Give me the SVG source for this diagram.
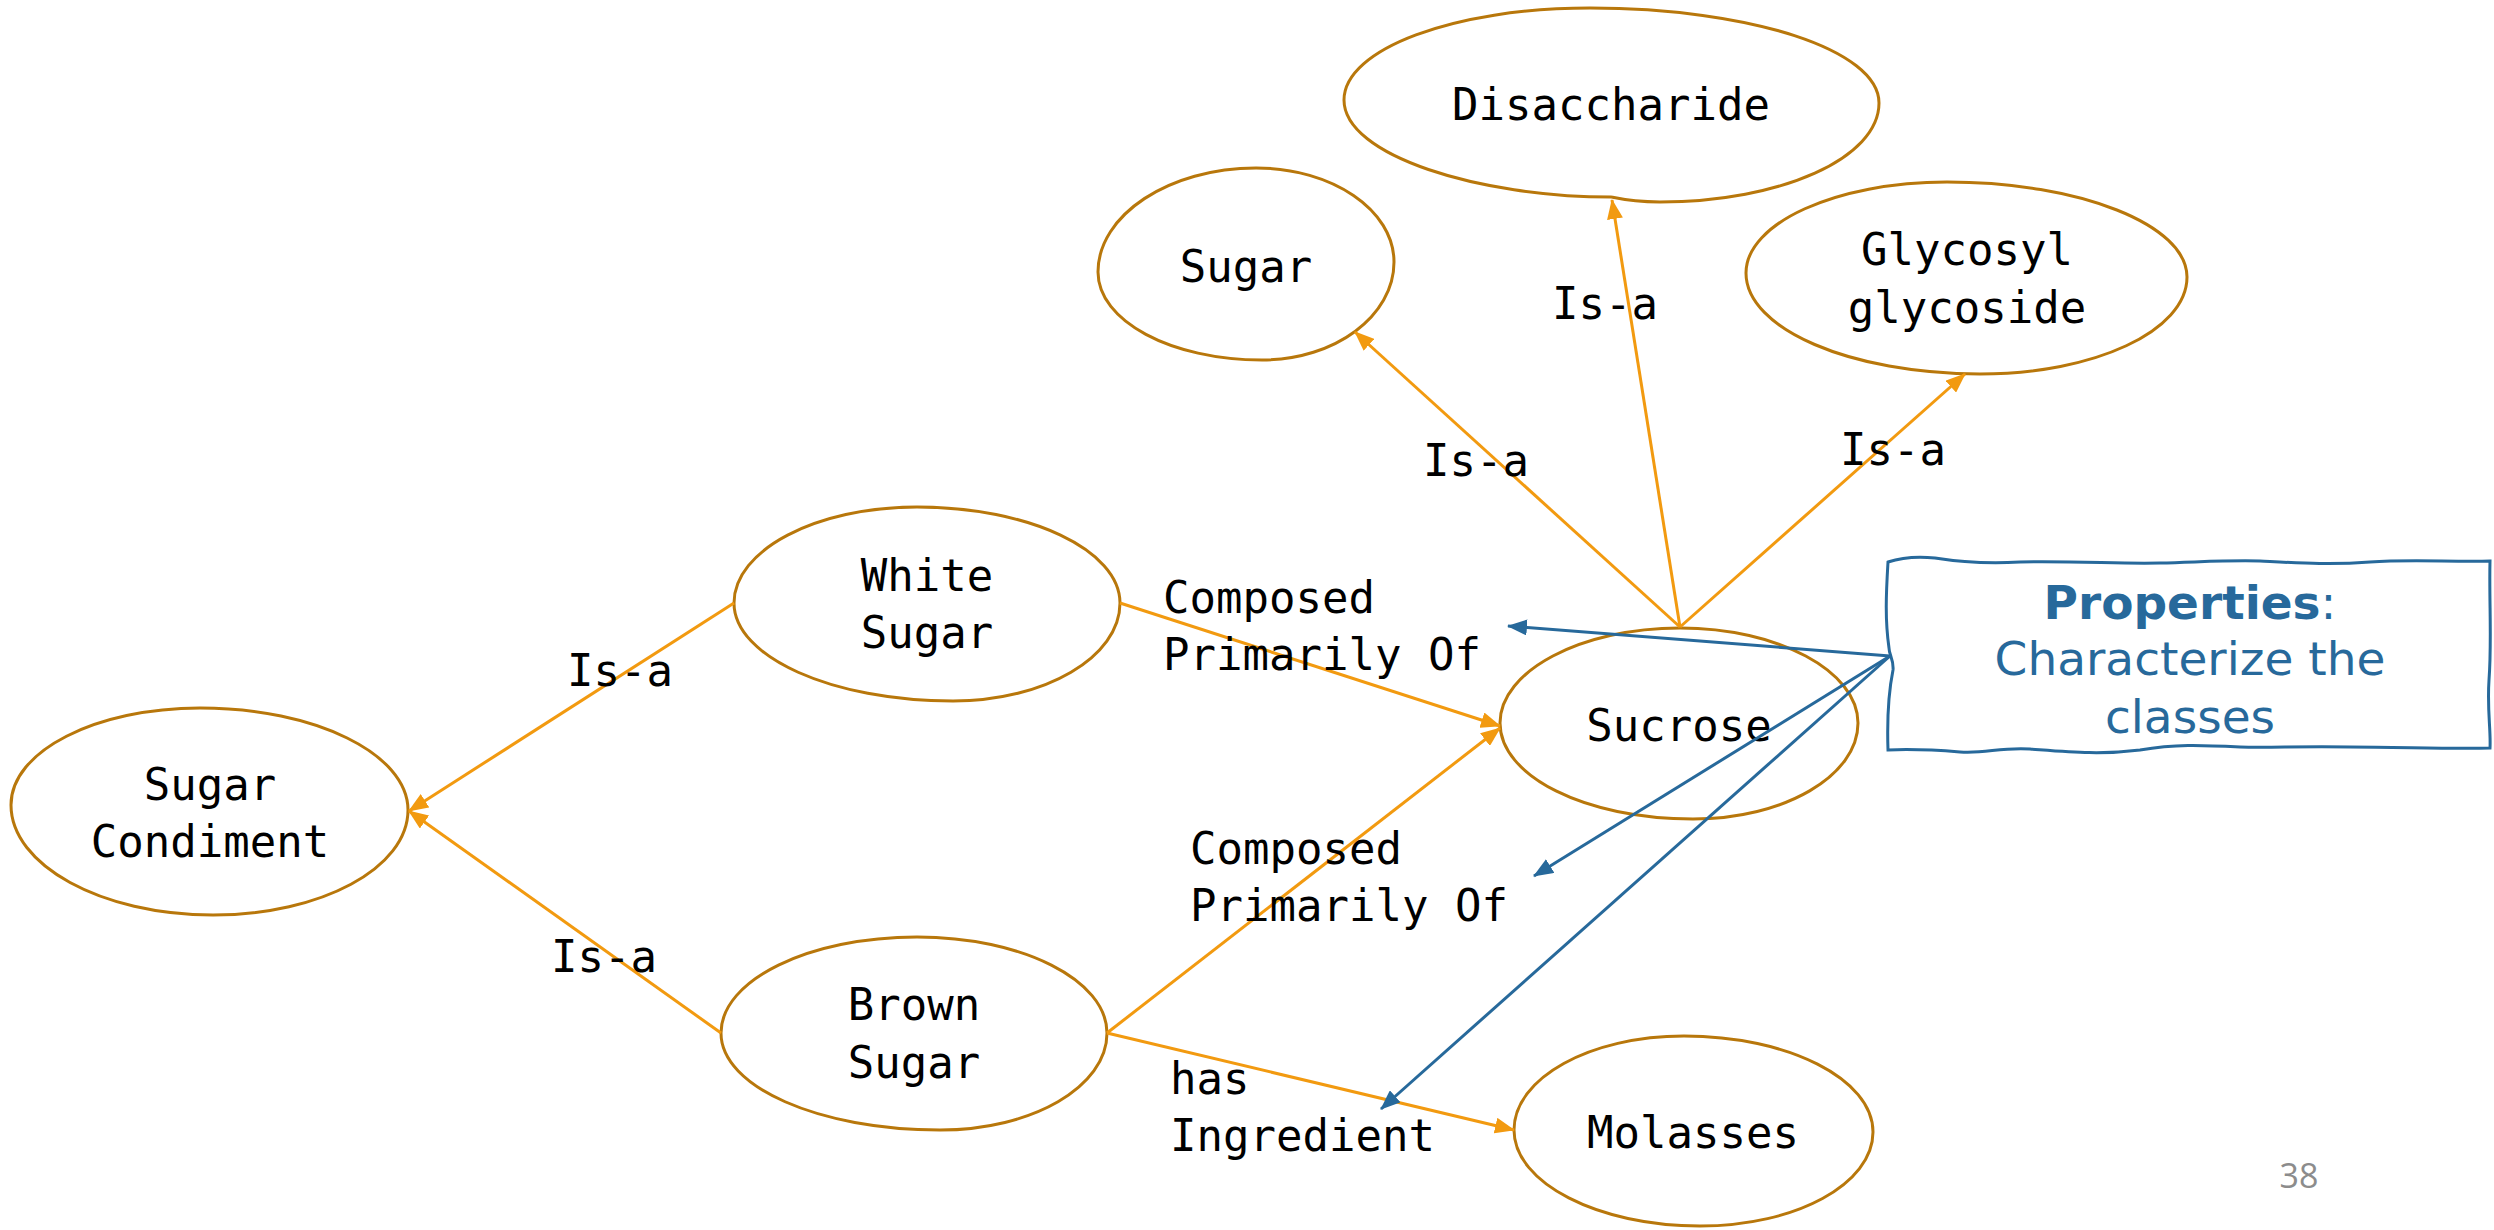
<svg xmlns="http://www.w3.org/2000/svg" width="2494" height="1230" viewBox="0 0 2494 1230">
  <style>
    .node { fill: #ffffff; stroke: #B8770B; stroke-width: 3; }
    .lbl { font-family: "DejaVu Sans Mono", "Liberation Mono", monospace; font-size: 44px; fill: #000000; }
    .mid { text-anchor: middle; }
    .isa { stroke: #F29A10; stroke-width: 3; fill: none; marker-end: url(#arrOrange); }
    .prop { stroke: #27699B; stroke-width: 3; fill: none; marker-end: url(#arrBlue); }
    .note { font-family: "DejaVu Sans", "Liberation Sans", sans-serif; font-size: 47px; fill: #27699B; text-anchor: middle; }
  </style>
  <defs>
    <marker id="arrOrange" markerUnits="userSpaceOnUse" markerWidth="20" markerHeight="16" refX="19" refY="8" orient="auto">
      <path d="M0,0 L20,8 L0,16 z" fill="#F29A10"/>
    </marker>
    <marker id="arrBlue" markerUnits="userSpaceOnUse" markerWidth="20" markerHeight="16" refX="19" refY="8" orient="auto">
      <path d="M0,0 L20,8 L0,16 z" fill="#27699B"/>
    </marker>
  </defs>

  <rect width="2494" height="1230" fill="#ffffff"/>

  <!-- concept nodes -->
  <g id="disaccharide">
    <path class="node" d="M1344,100 C1344,49 1454,8 1590,8 C1750,8 1879,50 1879,103 C1879,158 1781,202 1660,202 C1630,202 1612,197 1611,197 C1480,197 1344,156 1344,100 Z"/>
    <text class="lbl mid" x="1611" y="120">Disaccharide</text>
  </g>
  <g id="sugar">
    <path class="node" d="M1098,272 C1098,215 1169,168 1256,168 C1332,168 1394,210 1394,262 C1394,316 1335,360 1262,360 C1171,360 1098,321 1098,272 Z"/>
    <text class="lbl mid" x="1246" y="282">Sugar</text>
  </g>
  <g id="glycosyl-glycoside">
    <path class="node" d="M1746,273 C1746,223 1836,182 1947,182 C2080,182 2187,225 2187,277 C2187,331 2094,374 1980,374 C1851,374 1746,329 1746,273 Z"/>
    <text class="lbl mid" x="1967" y="265">Glycosyl</text>
    <text class="lbl mid" x="1967" y="323">glycoside</text>
  </g>
  <g id="white-sugar">
    <path class="node" d="M734,603 C734,550 816,507 917,507 C1029,507 1120,550 1120,603 C1120,657 1045,701 953,701 C832,701 734,657 734,603 Z"/>
    <text class="lbl mid" x="927" y="591">White</text>
    <text class="lbl mid" x="927" y="648">Sugar</text>
  </g>
  <g id="brown-sugar">
    <path class="node" d="M721,1033 C721,980 809,937 917,937 C1022,937 1107,980 1107,1033 C1107,1087 1032,1130 940,1130 C819,1130 721,1087 721,1033 Z"/>
    <text class="lbl mid" x="914" y="1020">Brown</text>
    <text class="lbl mid" x="914" y="1078">Sugar</text>
  </g>
  <g id="sucrose">
    <path class="node" d="M1500,723 C1500,671 1581,628 1680,628 C1778,628 1858,671 1858,723 C1858,776 1784,819 1693,819 C1585,819 1500,776 1500,723 Z"/>
    <text class="lbl mid" x="1679" y="741">Sucrose</text>
  </g>
  <g id="sugar-condiment">
    <path class="node" d="M11,805 C11,751 96,708 200,708 C315,708 408,754 408,810 C408,868 321,915 213,915 C101,915 11,865 11,805 Z"/>
    <text class="lbl mid" x="210" y="800">Sugar</text>
    <text class="lbl mid" x="210" y="857">Condiment</text>
  </g>
  <g id="molasses">
    <path class="node" d="M1514,1130 C1514,1078 1590,1036 1684,1036 C1788,1036 1873,1079 1873,1132 C1873,1184 1796,1226 1700,1226 C1598,1226 1514,1183 1514,1130 Z"/>
    <text class="lbl mid" x="1693" y="1148">Molasses</text>
  </g>

  <!-- callout box -->
  <g id="properties-note">
    <path d="M1888,562 C1900,558 1915,556 1935,558 C1960,562 1985,564 2020,562 C2080,561 2120,564 2160,563 C2200,562 2230,560 2260,561 C2300,563 2330,565 2370,562 C2410,559 2450,562 2490,561
             C2489,600 2492,640 2489,680 C2487,710 2491,730 2490,748
             C2450,749 2400,747 2350,747 C2300,746 2270,748 2240,747 C2200,745 2175,744 2140,750 C2100,755 2070,752 2030,749 C2000,747 1985,754 1960,752 C1935,750 1910,749 1888,750
             C1887,720 1889,690 1893,670 C1894,660 1889,655 1889,648 C1885,620 1886,595 1888,562 Z"
          fill="#ffffff" stroke="#27699B" stroke-width="3"/>
    <text class="note" x="2190" y="619"><tspan font-weight="bold">Properties</tspan>:</text>
    <text class="note" x="2190" y="675">Characterize the</text>
    <text class="note" x="2190" y="733">classes</text>
  </g>

  <!-- relations, drawn over the nodes -->
  <g id="connectors">
    <line class="isa" x1="1680" y1="627" x2="1355" y2="332"/>
    <line class="isa" x1="1680" y1="627" x2="1612" y2="200"/>
    <line class="isa" x1="1680" y1="627" x2="1965" y2="374"/>
    <line class="isa" x1="1120" y1="603" x2="1500" y2="726"/>
    <line class="isa" x1="1107" y1="1033" x2="1500" y2="728"/>
    <line class="isa" x1="1107" y1="1033" x2="1514" y2="1130"/>
    <line class="isa" x1="734" y1="603" x2="409" y2="811"/>
    <line class="isa" x1="721" y1="1033" x2="409" y2="811"/>

    <line class="prop" x1="1890" y1="656" x2="1508" y2="626"/>
    <line class="prop" x1="1890" y1="656" x2="1534" y2="876"/>
    <line class="prop" x1="1890" y1="656" x2="1381" y2="1109"/>

    <g class="lbl">
      <text x="1476" y="476" class="mid">Is-a</text>
      <text x="1605" y="319" class="mid">Is-a</text>
      <text x="1893" y="465" class="mid">Is-a</text>
      <text x="620" y="686" class="mid">Is-a</text>
      <text x="604" y="972" class="mid">Is-a</text>
      <text x="1163" y="613">Composed</text>
      <text x="1163" y="670">Primarily Of</text>
      <text x="1190" y="864">Composed</text>
      <text x="1190" y="921">Primarily Of</text>
      <text x="1170" y="1094">has</text>
      <text x="1170" y="1151">Ingredient</text>
    </g>
  </g>

  <text x="2299" y="1188" font-family="'Open Sans', 'DejaVu Sans', sans-serif" font-size="34" fill="#8C8C8C" text-anchor="middle">38</text>
</svg>
